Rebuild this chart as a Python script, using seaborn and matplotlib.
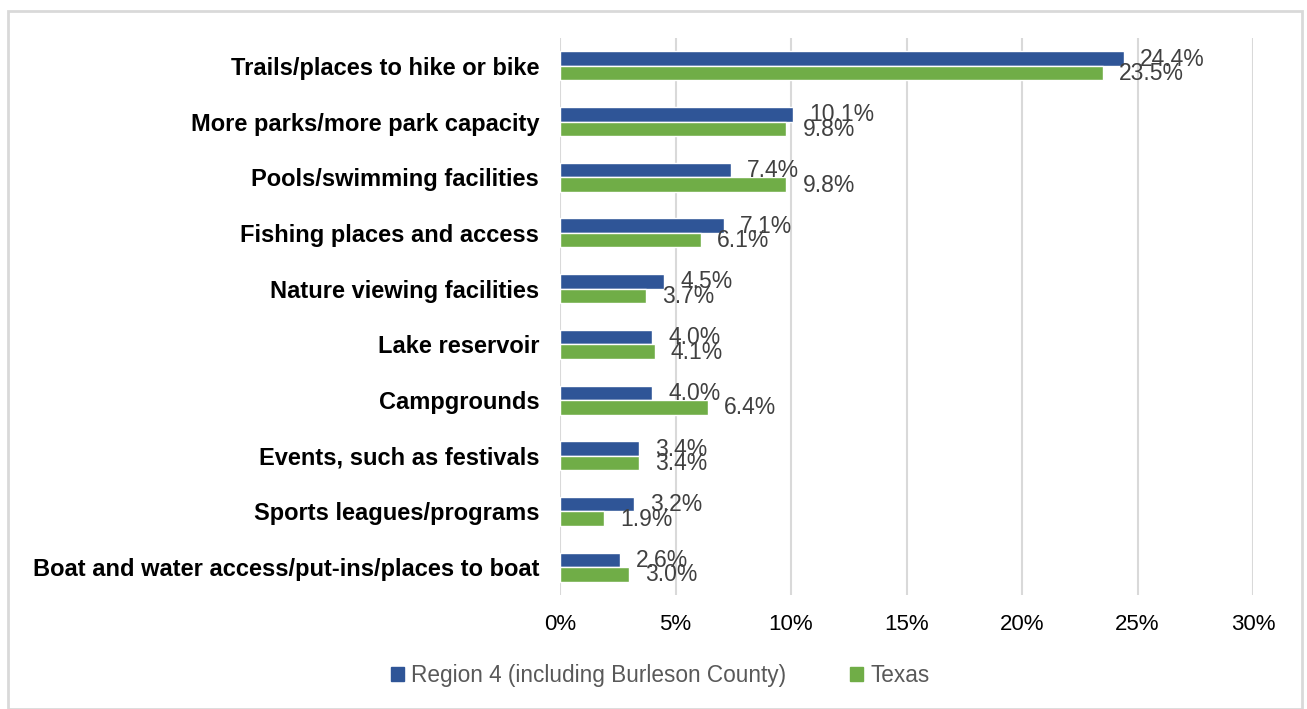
import matplotlib
matplotlib.use("Agg")
import matplotlib.pyplot as plt
import seaborn as sns
import pandas as pd
from matplotlib.patches import Rectangle

categories = [
    "Trails/places to hike or bike",
    "More parks/more park capacity",
    "Pools/swimming facilities",
    "Fishing places and access",
    "Nature viewing facilities",
    "Lake reservoir",
    "Campgrounds",
    "Events, such as festivals",
    "Sports leagues/programs",
    "Boat and water access/put-ins/places to boat",
]
region4 = [24.4, 10.1, 7.4, 7.1, 4.5, 4.0, 4.0, 3.4, 3.2, 2.6]
texas = [23.5, 9.8, 9.8, 6.1, 3.7, 4.1, 6.4, 3.4, 1.9, 3.0]
series_names = ["Region 4 (including Burleson County)", "Texas"]
xticks = [0, 5, 10, 15, 20, 25, 30]

df = pd.DataFrame({
    "cat": categories * 2,
    "val": region4 + texas,
    "series": [series_names[0]] * len(categories) + [series_names[1]] * len(categories),
})

sns.set_style("white")
plt.rcParams['font.family'] = ['Liberation Sans', 'DejaVu Sans']

colors = ["#2F5597", "#70AD47"]
fig = plt.figure(figsize=(13.07, 7.09), dpi=100)
ax = fig.add_axes([0.4285, 0.1608, 0.5302, 0.7856])
sns.barplot(data=df, x="val", y="cat", hue="series", palette=colors, orient="h",
            width=0.52, ax=ax, legend=False, saturation=1)

for cont in ax.containers:
    for rect in cont:
        w = rect.get_width()
        ax.text(w + 0.7, rect.get_y() + rect.get_height() / 2 + 0.01, f"{w:.1f}%",
                va="center", ha="left", fontsize=16.5, color="#404040")

ax.set_xlim(0, 30)
ax.set_xticks(xticks)
ax.set_xticklabels([f"{t}%" for t in xticks], fontsize=16, color="#000000")
ax.set_ylim(9.5, -0.5)
ax.set_yticks(range(len(categories)))
ax.set_yticklabels(categories, fontsize=17, fontweight="bold", color="#000000")
ax.tick_params(axis="x", length=0, pad=14)
ax.tick_params(axis="y", length=0, pad=15)
ax.set_xlabel("")
ax.set_ylabel("")
ax.grid(axis="x", color="#D9D9D9", linewidth=1.5)
ax.set_axisbelow(True)
for s in ax.spines.values():
    s.set_visible(False)

# legend
handles = [Rectangle((0, 0), 1, 1, color=c) for c in colors]
fig.legend(handles, series_names, loc="center", bbox_to_anchor=(0.505, 0.047), ncol=2,
           frameon=False, fontsize=16.3, handlelength=0.6, handleheight=0.6,
           columnspacing=2.8, handletextpad=0.3, labelcolor="#595959")

# figure border
fig.patches.append(Rectangle((0.0065, 0.0), 0.99, 0.985, transform=fig.transFigure,
                             fill=False, edgecolor="#D9D9D9", linewidth=2))

fig.savefig("out.png", dpi=100)
